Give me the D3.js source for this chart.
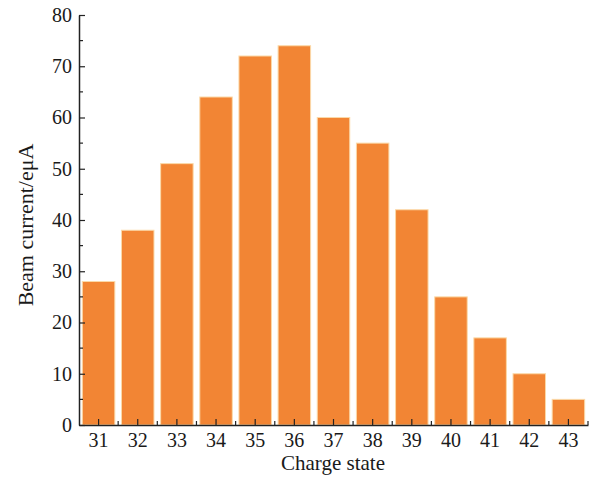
<!DOCTYPE html>
<html>
<head>
<meta charset="utf-8">
<script src="https://cdn.jsdelivr.net/npm/d3@7"></script>
<style>
  body { margin: 0; background: #fff; }
  text { font-family: "Liberation Serif", "Times New Roman", serif; fill: #1a1a1a; }
</style>
</head>
<body>
<div id="chart"></div>
<script>
// data
const chargeStates = ["31", "32", "33", "34", "35", "36", "37", "38", "39", "40", "41", "42", "43"];
const beamCurrent = [28, 38, 51, 64, 72, 74, 60, 55, 42, 25, 17, 10, 5];
const yTicks = [0, 10, 20, 30, 40, 50, 60, 70, 80];

const width = 590, height = 477;
const margin = { top: 15, right: 2, bottom: 52, left: 79 };

const svg = d3.select("#chart").append("svg")
  .attr("width", width)
  .attr("height", height);

const x = d3.scaleBand()
  .domain(chargeStates)
  .range([margin.left, width - margin.right])
  .paddingInner(0.17)
  .paddingOuter(0.085);

const y = d3.scaleLinear()
  .domain([0, 80])
  .range([height - margin.bottom, margin.top]);

// bars
svg.append("g")
  .selectAll("rect")
  .data(beamCurrent)
  .enter()
  .append("rect")
  .attr("x", (d, i) => x(chargeStates[i]))
  .attr("y", d => y(d))
  .attr("width", x.bandwidth())
  .attr("height", d => y(0) - y(d))
  .attr("fill", "#f28534")
  .attr("stroke", "#fbd9a8")
  .attr("stroke-width", 1);

// y axis, ticks pointing inward
const yAxis = svg.append("g")
  .attr("transform", `translate(${margin.left},0)`)
  .call(d3.axisLeft(y).tickValues(yTicks).tickSize(-6).tickPadding(7).tickSizeOuter(0));
yAxis.select(".domain").attr("stroke", "#222").attr("stroke-width", 1.5);
yAxis.selectAll(".tick line").attr("stroke", "#222").attr("stroke-width", 1.2);
yAxis.selectAll("text").style("font-size", "20px");

// y minor ticks
svg.append("g")
  .selectAll("line")
  .data(d3.range(5, 80, 10))
  .enter()
  .append("line")
  .attr("x1", margin.left)
  .attr("x2", margin.left + 4)
  .attr("y1", d => y(d))
  .attr("y2", d => y(d))
  .attr("stroke", "#222")
  .attr("stroke-width", 1.2);

// x axis, ticks pointing up
const xAxis = svg.append("g")
  .attr("transform", `translate(0,${y(0)})`)
  .call(d3.axisBottom(x).tickSize(-6).tickPadding(8).tickSizeOuter(0));
xAxis.select(".domain").attr("stroke", "#222").attr("stroke-width", 1.5);
xAxis.selectAll(".tick line").attr("stroke", "#222").attr("stroke-width", 1.2);
xAxis.selectAll("text").style("font-size", "20px");

// x minor ticks between bars
const step = x.step();
svg.append("g")
  .selectAll("line")
  .data(chargeStates)
  .enter()
  .append("line")
  .attr("x1", d => x(d) + x.bandwidth() / 2 + step / 2)
  .attr("x2", d => x(d) + x.bandwidth() / 2 + step / 2)
  .attr("y1", y(0))
  .attr("y2", y(0) - 4)
  .attr("stroke", "#222")
  .attr("stroke-width", 1.2);

// axis titles
svg.append("text")
  .attr("x", 333)
  .attr("y", 470)
  .attr("text-anchor", "middle")
  .style("font-size", "21px")
  .text("Charge state");

svg.append("text")
  .attr("transform", `translate(33, 225) rotate(-90)`)
  .attr("text-anchor", "middle")
  .style("font-size", "22px")
  .text("Beam current/eμA");
</script>
</body>
</html>
